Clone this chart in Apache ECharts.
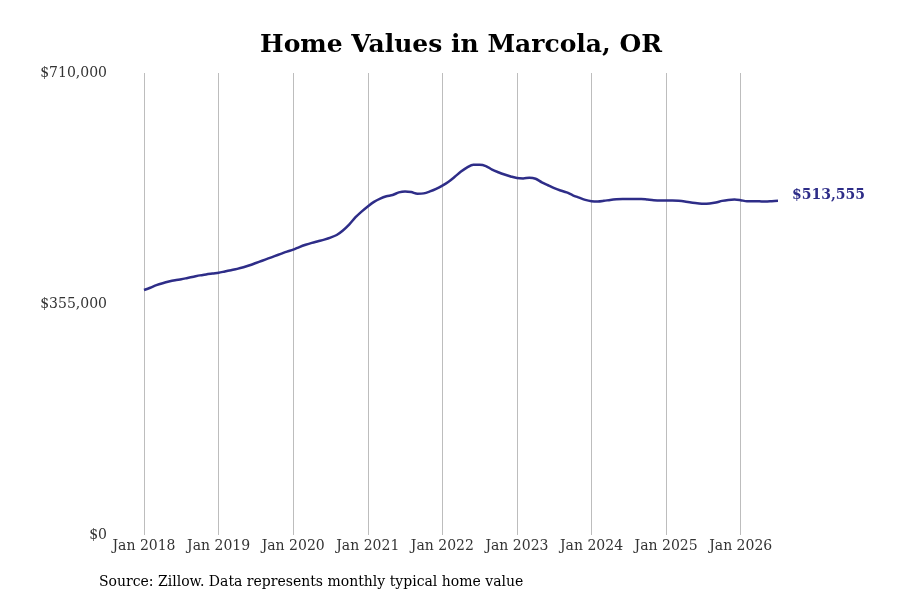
<!DOCTYPE html>
<html><head><meta charset="utf-8">
<script src="https://cdn.jsdelivr.net/npm/echarts@6/dist/echarts.min.js"></script>
<style>html,body{margin:0;padding:0;background:#fff}#c{width:900px;height:600px}</style>
</head><body><div id="c"></div>
<script>
const years = [2018,2019,2020,2021,2022,2023,2024,2025,2026];
const monthNames = ['Jan','Feb','Mar','Apr','May','Jun','Jul','Aug','Sep','Oct','Nov','Dec'];
const values = [
  // 2018
  376500,380000,384000,387000,389500,391500,393000,395000,397000,399000,400500,402000,
  // 2019
  403000,405000,407000,409000,411500,414500,418000,421500,425000,428500,432000,435500,
  // 2020
  438500,442500,446000,449000,451500,454000,457000,461000,468000,477000,488000,497000,
  // 2021
  505000,512000,517000,520500,522500,526500,528000,527000,524500,525000,528000,532000,
  // 2022
  537000,543000,550500,558500,565000,569000,569000,567000,561500,557500,554000,551000,
  // 2023
  548500,548000,549000,547500,542000,537500,533000,529500,526500,522000,518500,515000,
  // 2024
  513000,512500,513500,515000,516000,516500,516500,516500,516500,515500,514500,514000,
  // 2025
  514000,514000,513500,512500,511000,510000,509000,509500,511000,513500,515000,515500,
  // 2026
  514500,513000,513000,512800,512500,513000,513555
];
const categories = [];
for (let i = 0; i < values.length; i++) {
  categories.push(monthNames[i % 12] + ' ' + years[Math.floor(i / 12)]);
}
const yTicks = [0, 355000, 710000];
const titleText = 'Home Values in Marcola, OR';
const sourceText = 'Source: Zillow. Data represents monthly typical home value';
const lastLabel = '$513,555';

const chart = echarts.init(document.getElementById('c'));
const serif = 'DejaVu Serif';
chart.setOption({
  animation: false,
  backgroundColor: '#fff',
  title: [{
    text: titleText, left: 456, top: 28, textAlign: 'center',
    textStyle: {fontFamily: serif, fontWeight: 'bold', fontSize: 25, color: '#000'}
  }, {
    text: sourceText, left: 94, top: 570,
    textStyle: {fontFamily: serif, fontWeight: 'normal', fontSize: 14, color: '#000'}
  }],
  grid: {left: 144, right: 122, top: 73, bottom: 65, containLabel: false},
  xAxis: {
    type: 'category', data: categories, boundaryGap: false,
    axisLine: {show: false}, axisTick: {show: false},
    axisLabel: {
      interval: (i) => i % 12 === 0,
      formatter: (v) => v,
      fontFamily: serif, fontSize: 14, color: '#333', margin: 4
    },
    splitLine: {show: true, interval: (i) => i % 12 === 0, lineStyle: {color: '#bdbdbd', width: 1}}
  },
  yAxis: {
    type: 'value', min: yTicks[0], max: yTicks[2], interval: yTicks[1],
    axisLine: {show: false}, axisTick: {show: false}, splitLine: {show: false},
    axisLabel: {
      fontFamily: serif, fontSize: 14, color: '#333', margin: 37,
      formatter: (v) => '$' + v.toLocaleString('en-US')
    }
  },
  series: [{
    type: 'line', data: values, smooth: 0.3, showSymbol: false, symbol: 'none',
    lineStyle: {color: '#2e2d88', width: 2.5},
    endLabel: {
      show: true, formatter: () => lastLabel, distance: 14, offset: [0, -5],
      fontFamily: serif, fontWeight: 'bold', fontSize: 14, color: '#2e2d88'
    }
  }]
});
</script></body></html>
